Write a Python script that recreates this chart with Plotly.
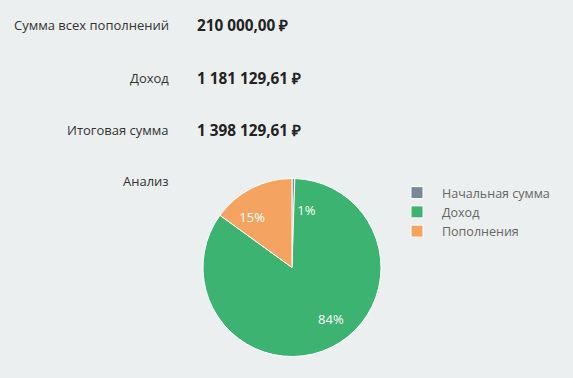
import plotly.graph_objects as go

W, H = 573, 378

row_labels = ["Сумма всех пополнений", "Доход", "Итоговая сумма"]
row_values = ["210 000,00 ₽", "1 181 129,61 ₽", "1 398 129,61 ₽"]
section_label = "Анализ"

categories = ["Начальная сумма", "Доход", "Пополнения"]
amounts = [7000.00, 1181129.61, 210000.00]
colors = ["#778899", "#3cb371", "#f4a460"]

# pie geometry (pixels)
CX, CY, R = 292, 267.5, 89
R_TXT = 49

fig = go.Figure()
fig.add_trace(go.Pie(
    labels=categories,
    values=amounts,
    marker=dict(colors=colors, line=dict(color="white", width=1)),
    sort=False,
    direction="clockwise",
    rotation=0,
    textinfo="none",
    hoverinfo="label+value+percent",
    domain=dict(x=[(CX - R) / W, (CX + R) / W], y=[1 - (CY + R) / H, 1 - (CY - R) / H]),
))
# transparent overlay pie only to carry the percentage labels
fig.add_trace(go.Pie(
    labels=categories,
    values=amounts,
    marker=dict(colors=["rgba(0,0,0,0)"] * 3, line=dict(width=0)),
    sort=False,
    direction="clockwise",
    rotation=0,
    texttemplate="%{percent:.0%}",
    textposition="outside",
    textfont=dict(color="white", size=13, family="Open Sans"),
    hoverinfo="skip",
    showlegend=False,
    domain=dict(x=[(CX - R_TXT) / W, (CX + R_TXT) / W],
                y=[1 - (CY + R_TXT) / H, 1 - (CY - R_TXT) / H]),
))

row_y = [25, 78, 130]
for lab, val, y in zip(row_labels, row_values, row_y):
    fig.add_annotation(x=171 / W, y=1 - y / H, xref="paper", yref="paper",
                       text=lab, showarrow=False, xanchor="right", yanchor="middle",
                       font=dict(family="Open Sans", size=13, color="#333333"))
    fig.add_annotation(x=195 / W, y=1 - y / H, xref="paper", yref="paper",
                       text="<b>" + val + "</b>", showarrow=False, xanchor="left", yanchor="middle",
                       font=dict(family="Open Sans", size=15.3, color="#222222"))
fig.add_annotation(x=171 / W, y=1 - 181 / H, xref="paper", yref="paper",
                   text=section_label, showarrow=False, xanchor="right", yanchor="middle",
                   font=dict(family="Open Sans", size=13, color="#333333"))

fig.update_layout(
    width=W, height=H,
    margin=dict(l=0, r=0, t=0, b=0),
    paper_bgcolor="#ecefef",
    plot_bgcolor="#ecefef",
    showlegend=True,
    legend=dict(x=392 / W, y=1 - 178 / H, xanchor="left", yanchor="top",
                font=dict(family="Open Sans", size=12.5, color="#666666"),
                bgcolor="rgba(0,0,0,0)", traceorder="normal", itemwidth=40),
)

fig.write_html("out.html", config={"displayModeBar": False},
               post_script="document.body.style.margin='0';document.body.style.background='#ecefef';")
